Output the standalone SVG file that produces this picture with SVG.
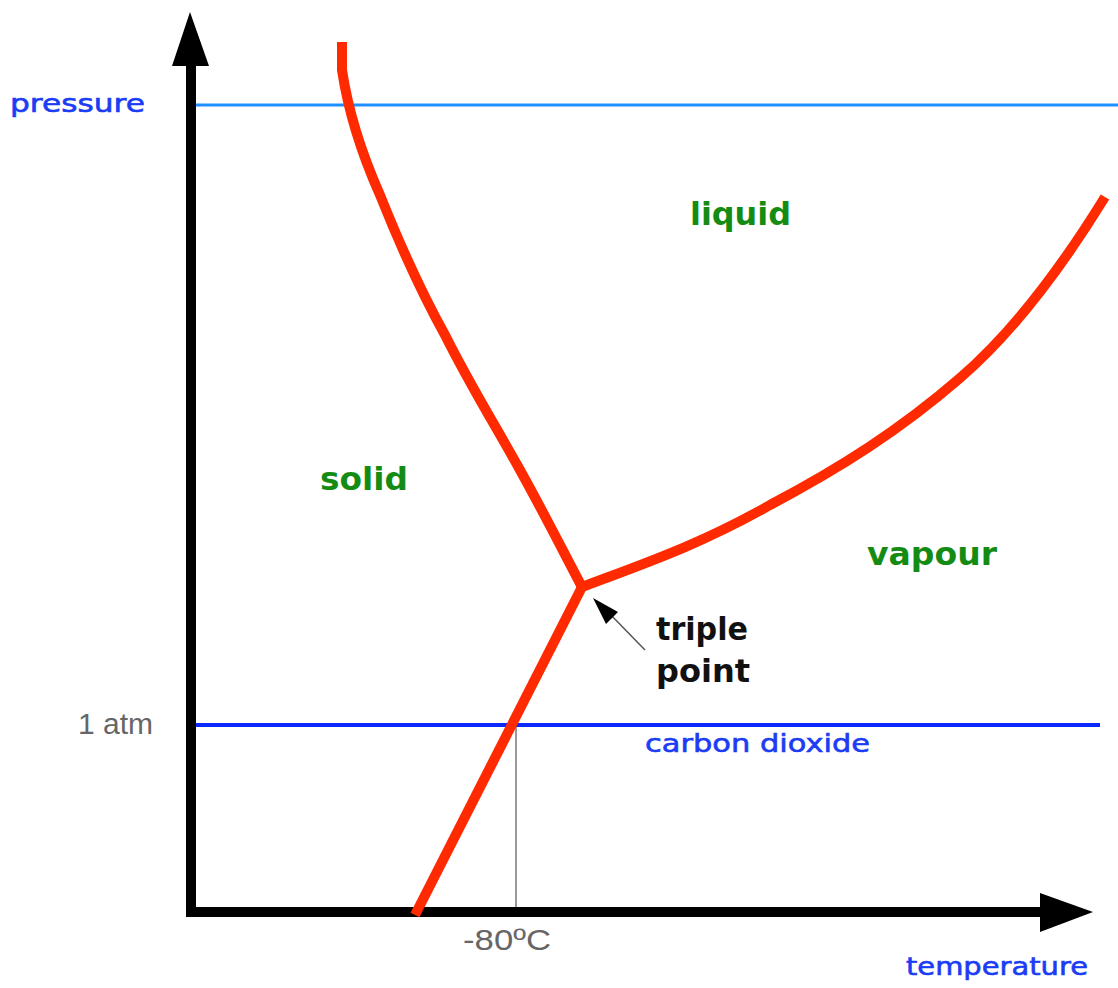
<svg xmlns="http://www.w3.org/2000/svg" width="1118" height="988" viewBox="0 0 1118 988">
<style>
.red{fill:none;stroke:#ff2a00;stroke-width:10;stroke-linejoin:round;stroke-linecap:butt}
.phase{font-family:"DejaVu Sans",Verdana,sans-serif;font-weight:bold;font-size:32px;fill:#148c14}
.blue{font-family:"DejaVu Sans",Verdana,sans-serif;font-size:25px;fill:#1a3cf5;stroke:#1a3cf5;stroke-width:0.6}
.gray{font-family:"Liberation Sans",Arial,sans-serif;font-size:30px;fill:#666}
.black{font-family:"DejaVu Sans",Verdana,sans-serif;font-weight:bold;font-size:32px;fill:#111}
</style>
<rect width="1118" height="988" fill="#fff"/>
<g id="axes">
<line x1="191" y1="917" x2="191" y2="60" stroke="#000" stroke-width="10"/>
<polygon points="190,12 172,66 209,66" fill="#000"/>
<line x1="186" y1="912" x2="1045" y2="912" stroke="#000" stroke-width="10"/>
<polygon points="1093,912 1040,893 1040,932" fill="#000"/>
</g>
<g id="reference-lines">
<line x1="196" y1="105" x2="1118" y2="105" stroke="#1e90ff" stroke-width="3"/>
<line x1="196" y1="725" x2="1100" y2="725" stroke="#0a28ff" stroke-width="4"/>
<line x1="516" y1="727" x2="516" y2="907" stroke="#555" stroke-width="1.2"/>
</g>
<g id="connectors">
<path class="red" d="M342,42 L342,70 C348,110 360,150 380,195 C400,245 420,290 445,335 C470,385 495,425 520,470 C545,515 565,555 582,587"/>
<path class="red" d="M582,587 L415,915"/>
<path class="red" d="M582,587 C640,565 700,545 770,505 C840,468 900,430 960,378 C1010,335 1060,270 1105,197"/>
<line x1="645" y1="650" x2="608" y2="612" stroke="#555" stroke-width="1.5"/>
<polygon points="593,598 618,612 606,624" fill="#000"/>
</g>
<g id="labels">
<text class="blue" x="10" y="112" textLength="135" lengthAdjust="spacingAndGlyphs">pressure</text>
<text class="phase" x="690" y="225" textLength="101" lengthAdjust="spacingAndGlyphs">liquid</text>
<text class="phase" x="320" y="490" textLength="88" lengthAdjust="spacingAndGlyphs">solid</text>
<text class="phase" x="867" y="565" textLength="130" lengthAdjust="spacingAndGlyphs">vapour</text>
<text class="black" x="656" y="640" textLength="92" lengthAdjust="spacingAndGlyphs">triple</text>
<text class="black" x="656" y="682" textLength="94" lengthAdjust="spacingAndGlyphs">point</text>
<text class="gray" x="78" y="734" textLength="75" lengthAdjust="spacingAndGlyphs">1 atm</text>
<text class="blue" x="645" y="752" textLength="225" lengthAdjust="spacingAndGlyphs">carbon dioxide</text>
<text class="gray" x="463" y="950" textLength="88" lengthAdjust="spacingAndGlyphs">-80ºC</text>
<text class="blue" x="906" y="975" textLength="182" lengthAdjust="spacingAndGlyphs">temperature</text>
</g>
</svg>
